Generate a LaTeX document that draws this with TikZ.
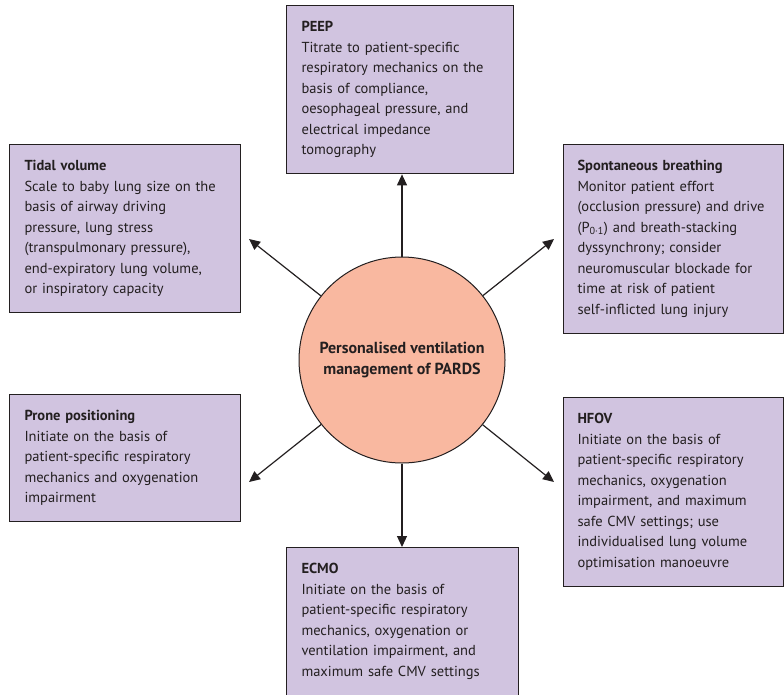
\documentclass[tikz,border=0pt]{standalone}
\usepackage{fontspec}
\setmainfont{PT Sans}
\usepackage{tikz}
\usetikzlibrary{arrows.meta}
\usetikzlibrary{positioning}
\definecolor{mlilac}{RGB}{209, 196, 224}
\definecolor{msalmon}{RGB}{249, 184, 160}
\definecolor{mink}{RGB}{35, 31, 32}
\tikzset{panel/.style = {draw=mink, line width=1pt, fill=mlilac, text=mink,
                         anchor=north west, align=left, inner xsep=15pt, inner ysep=16pt,
                         font=\fontsize{14.5}{20.5}\selectfont},
         hubnode/.style = {circle, draw=mink, line width=1pt, fill=msalmon, text=mink,
                           minimum size=206pt, align=center,
                           font=\fontsize{16}{21}\selectfont\bfseries},
         pointer/.style = {draw=mink, line width=1.2pt,
                           -{Triangle[length=11pt, width=10pt]}}}

\begin{document}
\begin{tikzpicture}[x=1pt, y=-1pt]
      \useasboundingbox (0, 0) rectangle (784, 694);

      \node [hubnode] (hub) at (402, 360) {Personalised ventilation\\ management of PARDS};

      \node [panel, text width=197pt] (peep) at (286, 5)
        {\textbf{PEEP}\\ Titrate to patient-specific\\ respiratory mechanics on the\\
         basis of compliance,\\ oesophageal pressure, and\\ electrical impedance\\ tomography};
      \node [panel, text width=201pt] (tidal) at (9, 144)
        {\textbf{Tidal volume}\\ Scale to baby lung size on the\\ basis of airway driving\\
         pressure, lung stress\\ (transpulmonary pressure),\\ end-expiratory lung volume,\\
         or inspiratory capacity};
      \node [panel, text width=192pt, inner xsep=14pt] (spont) at (563, 144)
        {\textbf{Spontaneous breathing}\\ Monitor patient effort\\ (occlusion pressure) and drive\\
         (P\textsubscript{0·1}) and breath-stacking\\ dyssynchrony; consider\\
         neuromuscular blockade for\\ time at risk of patient\\ self-inflicted lung injury};
      \node [panel, text width=201pt] (prone) at (9, 394)
        {\textbf{Prone positioning}\\ Initiate on the basis of\\ patient-specific respiratory\\
         mechanics and oxygenation\\ impairment};
      \node [panel, text width=192pt, inner xsep=14pt] (hfov) at (563, 397)
        {\textbf{HFOV}\\ Initiate on the basis of\\ patient-specific respiratory\\
         mechanics, oxygenation\\ impairment, and maximum\\ safe CMV settings; use\\
         individualised lung volume\\ optimisation manoeuvre};
      \node [panel, text width=202pt] (ecmo) at (286, 547)
        {\textbf{ECMO}\\ Initiate on the basis of\\ patient-specific respiratory\\
         mechanics, oxygenation or\\ ventilation impairment, and\\ maximum safe CMV settings};

      % free ends of the slanted arrows
      \coordinate (tidal-tip) at (249, 239);
      \coordinate (spont-tip) at (554, 239);
      \coordinate (prone-tip) at (249, 482);
      \coordinate (hfov-tip) at (554, 482);

      \draw [pointer] (hub) -- (hub |- peep.south);
      \draw [pointer] (hub) -- (hub |- ecmo.north);
      \foreach \t in {tidal, spont, prone, hfov} {
        \draw [pointer] (hub) -- (\t-tip);
      }
    \end{tikzpicture}
\end{document}
